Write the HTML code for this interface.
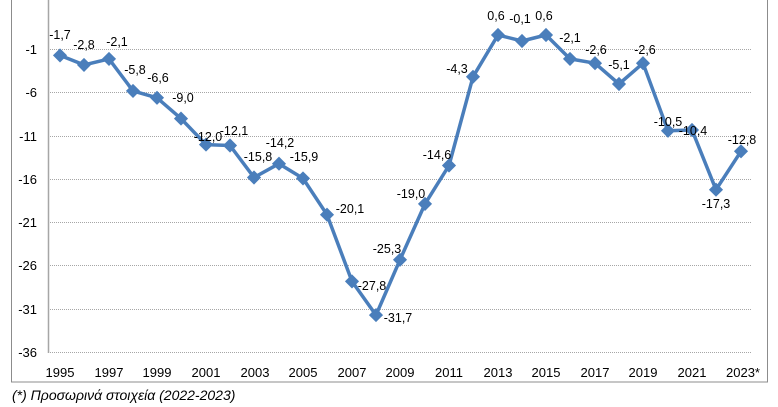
<!DOCTYPE html>
<html><head><meta charset="utf-8"><style>
html,body{margin:0;padding:0;background:#fff;width:778px;height:407px;overflow:hidden}
svg{display:block;font-family:"Liberation Sans",sans-serif}
</style></head><body>
<svg width="778" height="407" xmlns="http://www.w3.org/2000/svg">
<rect x="11.5" y="-2" width="756" height="384" fill="#fff" stroke="#8c8c8c" stroke-width="1"/>
<g stroke="#a6a6a6" stroke-width="1" stroke-dasharray="1,1">
<line x1="48" x2="752" y1="49.5" y2="49.5"/>
<line x1="48" x2="752" y1="92.5" y2="92.5"/>
<line x1="48" x2="752" y1="136.5" y2="136.5"/>
<line x1="48" x2="752" y1="179.5" y2="179.5"/>
<line x1="48" x2="752" y1="222.5" y2="222.5"/>
<line x1="48" x2="752" y1="265.5" y2="265.5"/>
<line x1="48" x2="752" y1="309.5" y2="309.5"/>
<line x1="48" x2="752" y1="352.5" y2="352.5"/>
</g>
<line x1="48.5" x2="48.5" y1="0" y2="353" stroke="#a6a6a6" stroke-width="1.5"/>
<g font-size="13" fill="#000" text-anchor="end">
<text x="37" y="54">-1</text><text x="37" y="97">-6</text><text x="37" y="141">-11</text><text x="37" y="184">-16</text>
<text x="37" y="227">-21</text><text x="37" y="270">-26</text><text x="37" y="314">-31</text><text x="37" y="357">-36</text>
</g>
<g font-size="13" fill="#000" text-anchor="middle">
<text x="60" y="377">1995</text><text x="109" y="377">1997</text><text x="157" y="377">1999</text><text x="206" y="377">2001</text>
<text x="255" y="377">2003</text><text x="303" y="377">2005</text><text x="352" y="377">2007</text><text x="400" y="377">2009</text>
<text x="449" y="377">2011</text><text x="498" y="377">2013</text><text x="546" y="377">2015</text><text x="595" y="377">2017</text>
<text x="643" y="377">2019</text><text x="692" y="377">2021</text><text x="743" y="377">2023*</text>
</g>
<polyline fill="none" stroke="#4a7ebb" stroke-width="3.5" stroke-linejoin="round" points="60,55.4 84,64.9 109,58.9 133,90.9 157,97.8 181,118.6 206,144.6 230,145.5 254,177.5 279,163.7 303,178.4 327,214.7 352,281.4 376,315.1 400,259.8 425,203.9 449,165.5 473,76.8 498,35.0 522,41.0 546,35.0 570,58.9 595,63.2 619,84.0 643,63.2 668,130.8 692,130.0 716,189.7 741,151.3"/>
<g fill="#4a7ebb">
<rect x="-5" y="-5" width="10" height="10" transform="translate(60,55.4) rotate(45)"/>
<rect x="-5" y="-5" width="10" height="10" transform="translate(84,64.9) rotate(45)"/>
<rect x="-5" y="-5" width="10" height="10" transform="translate(109,58.9) rotate(45)"/>
<rect x="-5" y="-5" width="10" height="10" transform="translate(133,90.9) rotate(45)"/>
<rect x="-5" y="-5" width="10" height="10" transform="translate(157,97.8) rotate(45)"/>
<rect x="-5" y="-5" width="10" height="10" transform="translate(181,118.6) rotate(45)"/>
<rect x="-5" y="-5" width="10" height="10" transform="translate(206,144.6) rotate(45)"/>
<rect x="-5" y="-5" width="10" height="10" transform="translate(230,145.5) rotate(45)"/>
<rect x="-5" y="-5" width="10" height="10" transform="translate(254,177.5) rotate(45)"/>
<rect x="-5" y="-5" width="10" height="10" transform="translate(279,163.7) rotate(45)"/>
<rect x="-5" y="-5" width="10" height="10" transform="translate(303,178.4) rotate(45)"/>
<rect x="-5" y="-5" width="10" height="10" transform="translate(327,214.7) rotate(45)"/>
<rect x="-5" y="-5" width="10" height="10" transform="translate(352,281.4) rotate(45)"/>
<rect x="-5" y="-5" width="10" height="10" transform="translate(376,315.1) rotate(45)"/>
<rect x="-5" y="-5" width="10" height="10" transform="translate(400,259.8) rotate(45)"/>
<rect x="-5" y="-5" width="10" height="10" transform="translate(425,203.9) rotate(45)"/>
<rect x="-5" y="-5" width="10" height="10" transform="translate(449,165.5) rotate(45)"/>
<rect x="-5" y="-5" width="10" height="10" transform="translate(473,76.8) rotate(45)"/>
<rect x="-5" y="-5" width="10" height="10" transform="translate(498,35.0) rotate(45)"/>
<rect x="-5" y="-5" width="10" height="10" transform="translate(522,41.0) rotate(45)"/>
<rect x="-5" y="-5" width="10" height="10" transform="translate(546,35.0) rotate(45)"/>
<rect x="-5" y="-5" width="10" height="10" transform="translate(570,58.9) rotate(45)"/>
<rect x="-5" y="-5" width="10" height="10" transform="translate(595,63.2) rotate(45)"/>
<rect x="-5" y="-5" width="10" height="10" transform="translate(619,84.0) rotate(45)"/>
<rect x="-5" y="-5" width="10" height="10" transform="translate(643,63.2) rotate(45)"/>
<rect x="-5" y="-5" width="10" height="10" transform="translate(668,130.8) rotate(45)"/>
<rect x="-5" y="-5" width="10" height="10" transform="translate(692,130.0) rotate(45)"/>
<rect x="-5" y="-5" width="10" height="10" transform="translate(716,189.7) rotate(45)"/>
<rect x="-5" y="-5" width="10" height="10" transform="translate(741,151.3) rotate(45)"/>
</g>
<g font-size="12.5" fill="#000" text-anchor="middle" dominant-baseline="central">
<text x="60" y="35">-1,7</text><text x="84" y="45">-2,8</text><text x="117" y="42">-2,1</text>
<text x="135" y="70">-5,8</text><text x="158" y="78">-6,6</text><text x="183" y="98">-9,0</text>
<text x="208" y="137">-12,0</text><text x="234" y="131">-12,1</text><text x="258" y="157">-15,8</text>
<text x="280" y="143">-14,2</text><text x="304" y="157">-15,9</text><text x="350" y="209">-20,1</text>
<text x="372" y="286">-27,8</text><text x="398" y="318">-31,7</text><text x="387" y="249">-25,3</text>
<text x="411" y="194">-19,0</text><text x="437" y="155">-14,6</text><text x="457" y="69">-4,3</text>
<text x="496" y="16">0,6</text><text x="520" y="19">-0,1</text><text x="544" y="16">0,6</text>
<text x="570" y="38">-2,1</text><text x="596" y="50">-2,6</text><text x="619" y="65">-5,1</text>
<text x="645" y="50">-2,6</text><text x="668" y="122">-10,5</text><text x="693" y="131">-10,4</text>
<text x="716" y="204">-17,3</text><text x="742" y="140">-12,8</text>
</g>
<text x="12" y="400" font-size="14" font-style="italic" fill="#000">(*) Προσωρινά στοιχεία (2022-2023)</text>
</svg>
</body></html>
